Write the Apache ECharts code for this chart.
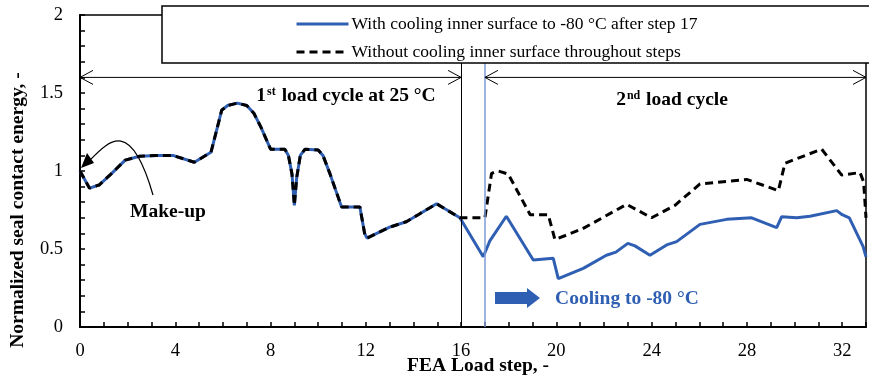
<!DOCTYPE html>
<html>
<head>
<meta charset="utf-8">
<script src="https://cdn.jsdelivr.net/npm/echarts@6/dist/echarts.min.js"></script>
<style>
html,body{margin:0;padding:0;background:#fff;}
#chart{width:869px;height:376px;}
</style>
</head>
<body>
<div id="chart"></div>
<script>
// ---- data ----
// shared part: 1st load cycle (steps 0-16), identical for both runs
const sharedSteps  = [0, 0.4, 0.8, 1.3, 1.9, 2.5, 3.2, 3.9, 4.8, 5.5, 5.95, 6.2, 6.6, 7.0, 7.3, 7.6, 8.0, 8.6, 8.75, 8.9, 9.0, 9.1, 9.25, 9.45, 10.0, 10.2, 10.5, 10.98, 11.75, 11.95, 12.05, 13.0, 13.7, 14.2, 14.97, 15.95];
const sharedEnergy = [1.0, 0.89, 0.91, 0.98, 1.07, 1.095, 1.10, 1.10, 1.056, 1.12, 1.39, 1.42, 1.435, 1.42, 1.37, 1.28, 1.14, 1.14, 1.10, 0.98, 0.78, 0.96, 1.10, 1.14, 1.135, 1.10, 0.98, 0.77, 0.77, 0.60, 0.57, 0.64, 0.675, 0.72, 0.79, 0.70];
// 2nd load cycle, with cooling inner surface to -80 °C after step 17
const coolSteps  = [16.93, 17.2, 17.9, 19.03, 19.87, 20.08, 21.13, 22.1, 22.5, 23.0, 23.3, 23.93, 24.63, 25.05, 26.03, 27.15, 28.2, 29.25, 29.46, 30.09, 30.65, 31.77, 32.0, 32.3, 32.88, 33.0];
const coolEnergy = [0.45, 0.55, 0.71, 0.43, 0.44, 0.31, 0.376, 0.46, 0.48, 0.536, 0.52, 0.46, 0.526, 0.547, 0.658, 0.69, 0.70, 0.637, 0.707, 0.70, 0.71, 0.746, 0.72, 0.70, 0.515, 0.45];
// 2nd load cycle, without cooling
const drySteps  = [17.0, 17.28, 17.56, 17.98, 18.9, 19.66, 19.94, 21.1, 22.95, 24.0, 24.98, 26.03, 27.99, 29.32, 29.6, 31.14, 31.98, 32.75, 32.9, 33.0];
const dryEnergy = [0.70, 0.985, 1.0, 0.98, 0.72, 0.72, 0.56, 0.63, 0.786, 0.70, 0.78, 0.917, 0.946, 0.874, 1.05, 1.14, 0.974, 0.99, 0.93, 0.70];

const xTickLabels = [0, 4, 8, 12, 16, 20, 24, 28, 32];
const yTickLabels = [0, 0.5, 1, 1.5, 2];

const seriesNames = ['With cooling inner surface to -80 °C after step 17', 'Without cooling inner surface throughout steps'];

const pairs = (xs, ys) => xs.map((x, i) => [x, ys[i]]);
const coolData = pairs(sharedSteps.concat(coolSteps), sharedEnergy.concat(coolEnergy));
const dryData  = pairs(sharedSteps.concat(drySteps), sharedEnergy.concat(dryEnergy));

const SERIF = '"Liberation Serif", "Times New Roman", serif';
const BLUE = '#2f5fb3';
const BOLD = 'bold 19.5px ' + SERIF;

const chart = echarts.init(document.getElementById('chart'), null, {renderer: 'canvas'});

chart.setOption({
  animation: false,
  backgroundColor: '#fff',
  textStyle: {fontFamily: SERIF},
  grid: {left: 80, right: 3, top: 15, bottom: 49, show: true, borderColor: '#000', borderWidth: 1.5, backgroundColor: 'transparent'},
  legend: {
    z: 20,
    orient: 'vertical',
    left: 290,
    top: 10,
    itemWidth: 52,
    itemHeight: 14,
    itemGap: 10,
    itemStyle: {color: 'transparent', borderWidth: 0, opacity: 0},
    lineStyle: {width: 3},
    textStyle: {fontFamily: SERIF, fontSize: 17.5, color: '#000', padding: [0, 0, 0, -2]},
    data: seriesNames
  },
  xAxis: {
    type: 'value', min: 0, max: 33, interval: 1,
    axisLine: {show: true, onZero: false, lineStyle: {color: '#000', width: 2}},
    axisTick: {show: true, inside: true, length: 5, lineStyle: {color: '#000', width: 1.5}},
    splitLine: {show: false},
    axisLabel: {
      margin: 15, fontFamily: SERIF, fontSize: 18.5, color: '#000',
      formatter: v => xTickLabels.includes(v) ? String(v) : ''
    }
  },
  yAxis: {
    type: 'value', min: 0, max: 2, interval: 0.1,
    axisLine: {show: true, onZero: false, lineStyle: {color: '#000', width: 2}},
    axisTick: {show: true, inside: true, length: 5, lineStyle: {color: '#000', width: 1.5}},
    splitLine: {show: false},
    axisLabel: {
      margin: 17, fontFamily: SERIF, fontSize: 18.5, color: '#000',
      formatter: v => {
        const hit = yTickLabels.find(t => Math.abs(t - v) < 1e-6);
        return hit === undefined ? '' : String(hit);
      }
    }
  },
  series: [
    {
      name: seriesNames[0], type: 'line', data: coolData, showSymbol: false, symbol: 'none',
      lineStyle: {color: BLUE, width: 3}, itemStyle: {color: BLUE}, z: 3,
      markLine: {
        silent: true, symbol: 'none', label: {show: false},
        data: [
          {xAxis: 16, lineStyle: {color: '#000', width: 1, type: 'solid'}},
          {xAxis: 17, lineStyle: {color: '#7f9bd6', width: 1.5, type: 'solid'}}
        ]
      }
    },
    {
      name: seriesNames[1], type: 'line', data: dryData, showSymbol: false, symbol: 'none',
      lineStyle: {color: '#000', width: 3, type: [8, 5]}, itemStyle: {color: '#000'}, z: 4
    }
  ]
});

// ---- annotations ----
const px = (x, y) => chart.convertToPixel({gridIndex: 0}, [x, y]);
const left0 = px(0, 1.6), left16 = px(16, 1.6), right17 = px(17, 1.6), right33 = px(33, 1.6);
const AY = left0[1];
function chevron(x, y, dir) {
  return {type: 'polyline', z: 6, shape: {points: [[x - dir * 13, y - 7], [x, y], [x - dir * 13, y + 7]]}, style: {stroke: '#000', lineWidth: 1, fill: null}};
}
const bold = (txt, x, y, extra) => ({type: 'text', z: 7, x, y, style: Object.assign({text: txt, font: BOLD, fill: '#000', align: 'center', verticalAlign: 'middle'}, extra || {})});
const richSup = {b: {font: BOLD, fill: '#000'}, s: {font: 'bold 12px ' + SERIF, fill: '#000', padding: [0, 1, 9, 1]}};

chart.setOption({
  graphic: [
    // legend frame
    {type: 'rect', z: 8, shape: {x: 162, y: 6, width: 740, height: 57}, style: {fill: '#fff', stroke: '#000', lineWidth: 1.5}},
    // cycle arrows
    {type: 'line', z: 6, shape: {x1: left0[0], y1: AY, x2: left16[0], y2: AY}, style: {stroke: '#000', lineWidth: 1}},
    chevron(left0[0], AY, -1), chevron(left16[0], AY, 1),
    {type: 'line', z: 6, shape: {x1: right17[0], y1: AY, x2: right33[0], y2: AY}, style: {stroke: '#000', lineWidth: 1}},
    chevron(right17[0], AY, -1), chevron(right33[0], AY, 1),
    {type: 'text', z: 7, x: 346, y: 96, style: {text: '{b|1}{s|st}{b| load cycle at 25 °C}', align: 'center', verticalAlign: 'middle', rich: richSup}},
    {type: 'text', z: 7, x: 672, y: 100, style: {text: '{b|2}{s|nd}{b| load cycle}', align: 'center', verticalAlign: 'middle', rich: richSup}},
    // make-up annotation
    {type: 'bezierCurve', z: 6, shape: {x1: 153, y1: 195, cpx1: 130, cpy1: 115, cpx2: 108, cpy2: 142, x2: 88, y2: 162}, style: {stroke: '#000', lineWidth: 1.2, fill: null}},
    {type: 'polygon', z: 6, shape: {points: [[81, 168], [94, 163], [87, 153]]}, style: {fill: '#000'}},
    bold('Make-up', 168, 212),
    // cooling annotation
    {type: 'polygon', z: 6, shape: {points: [[495, 292], [527, 292], [527, 288], [540, 298], [527, 308], [527, 304], [495, 304]]}, style: {fill: BLUE}},
    bold('Cooling to -80 °C', 627, 299, {fill: BLUE}),
    // axis titles
    bold('FEA Load step, -', 478, 366),
    {type: 'text', z: 7, x: 18, y: 210, rotation: Math.PI / 2, style: {text: 'Normalized seal contact energy, -', font: BOLD, fill: '#000', align: 'center', verticalAlign: 'middle'}}
  ]
});
</script>
</body>
</html>
